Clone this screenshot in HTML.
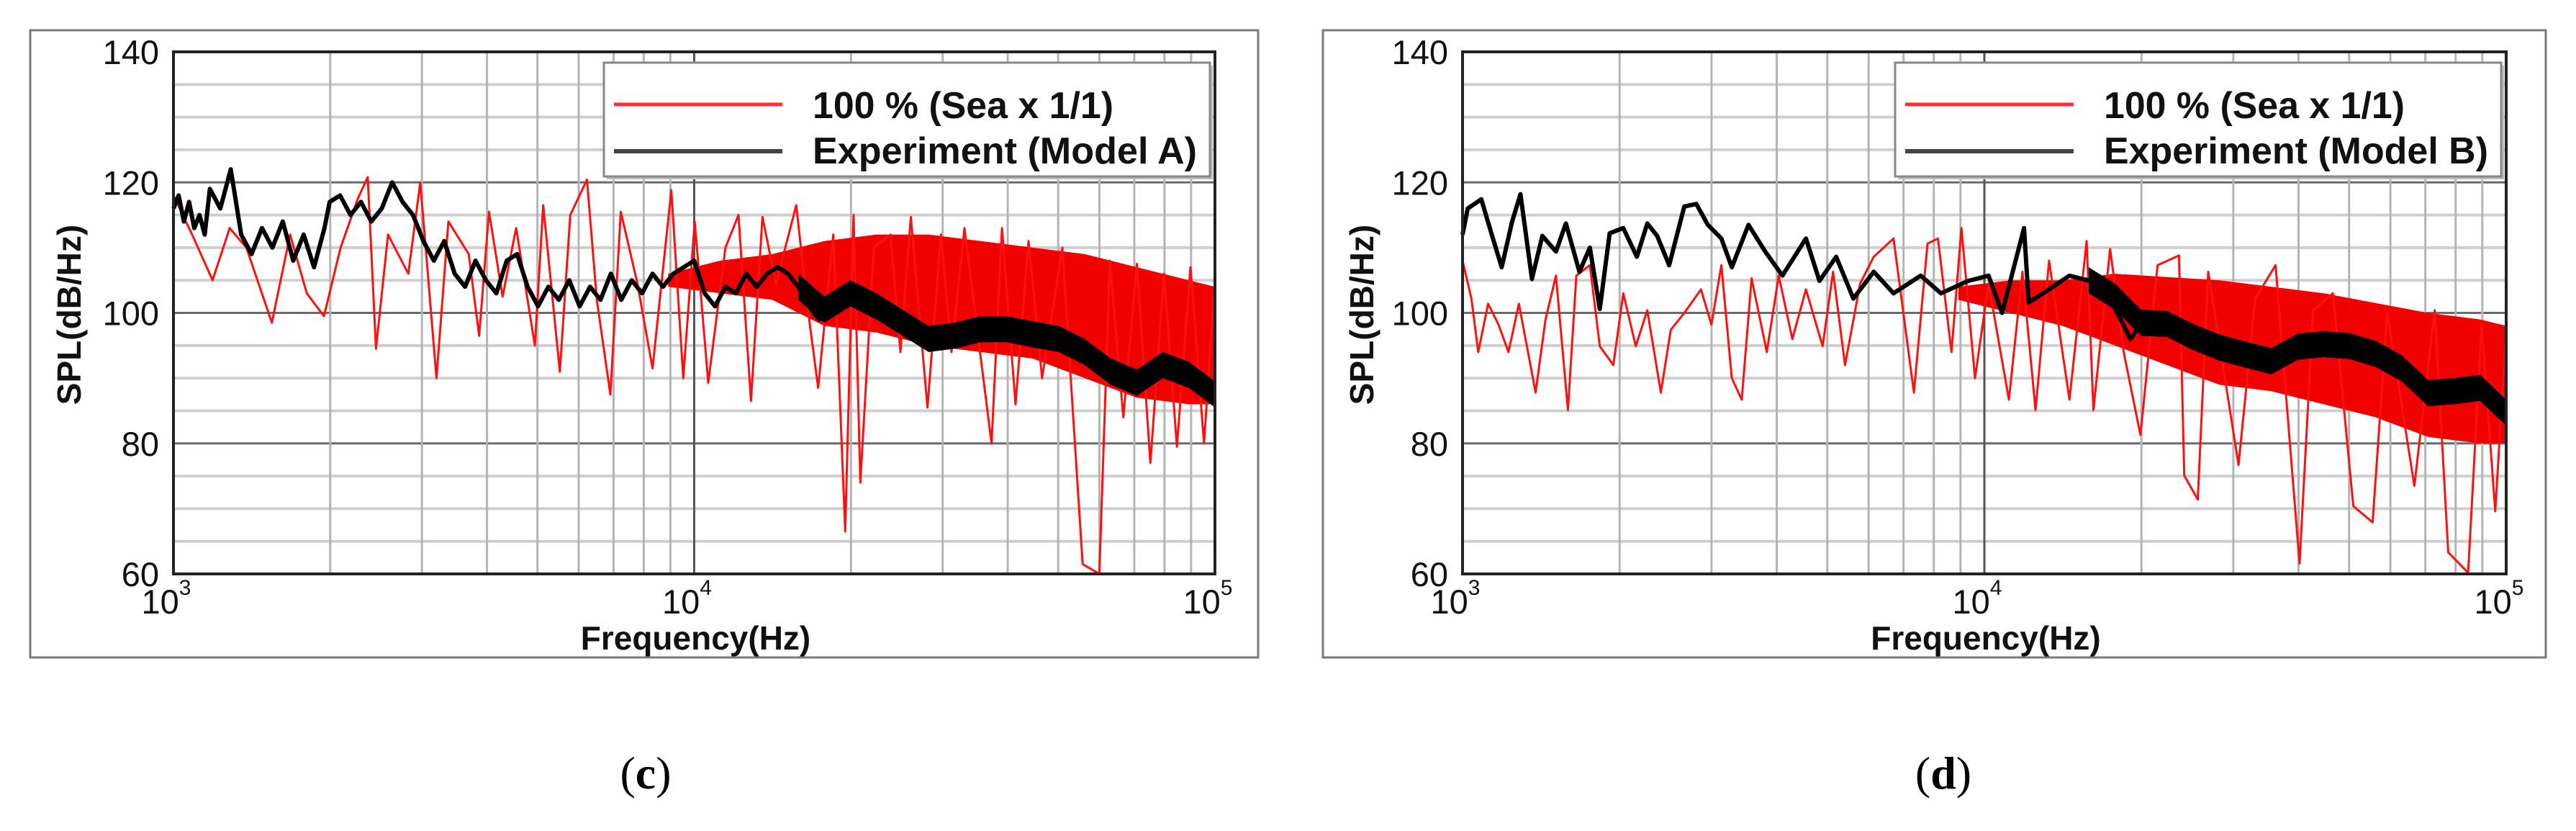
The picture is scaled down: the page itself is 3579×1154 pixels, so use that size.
<!DOCTYPE html>
<html><head><meta charset="utf-8">
<style>
html,body{margin:0;padding:0;background:#fff;}
svg{display:block;}
text{font-family:"Liberation Sans",Arial,sans-serif;}
</style></head>
<body>
<svg id="fig" width="3579" height="1154" viewBox="0 0 3579 1154" xmlns="http://www.w3.org/2000/svg">
<text x="897" y="1095" text-anchor="middle" font-size="64" style="font-family:'Liberation Serif',serif">(<tspan font-weight="bold">c</tspan>)</text>
<text x="2700" y="1095" text-anchor="middle" font-size="64" style="font-family:'Liberation Serif',serif">(<tspan font-weight="bold">d</tspan>)</text>
</svg>
<script>
// ---------- shared ----------
const yTicks = [60, 80, 100, 120, 140];
const xDecades = [3, 4, 5];
const legendLabelsC = ["100 % (Sea x 1/1)", "Experiment (Model A)"];
const legendLabelsD = ["100 % (Sea x 1/1)", "Experiment (Model B)"];

// ---------- data: panel (c) ----------
const cBlackF = [3.00,3.01,3.02,3.03,3.04,3.05,3.06,3.07,3.09,3.11,3.13,3.15,3.17,3.19,3.21,3.23,3.25,3.27,3.29,3.30,3.32,3.34,3.36,3.38,3.40,3.42,3.44,3.46,3.48,3.50,3.52,3.54,3.56,3.58,3.60,3.62,3.64,3.66,3.68,3.70,3.72,3.74,3.76,3.78,3.80,3.82,3.84,3.86,3.88,3.90,3.92,3.94,3.96,3.98,4.00,4.02,4.04,4.06,4.08,4.10,4.12,4.14,4.16,4.18,4.20,4.22,4.24,4.26,4.28,4.30,4.32,4.34,4.36,4.38,4.40,4.42,4.44,4.46,4.48,4.50,4.52,4.54,4.56,4.58,4.60,4.62,4.64,4.66,4.68,4.70,4.72,4.74,4.76,4.78,4.80,4.82,4.84,4.86,4.88,4.90,4.92,4.94,4.96,4.98,5.00];
const cBlackV = [116,118,114,117,113,115,112,119,116,122,112,109,113,110,114,108,112,107,113,117,118,115,117,114,116,120,117,115,111,108,111,106,104,108,105,103,108,109,104,101,104,102,105,101,104,102,106,102,105,103,106,104,106,107,108,103,101,104,103,106,104,106,107,106,104,101,99,100.5,102,103,103.5,102,100,99,98.5,97.5,96.5,96,96,96.5,97,97.5,97.5,97.5,98,97.5,97,97,96.5,96,95.5,94.5,93.5,92.5,91,89.5,89,89.5,91,92,92,91,90,88.5,87.5];

const cBlackBandF = [4.20,4.25,4.30,4.35,4.40,4.45,4.50,4.55,4.60,4.65,4.70,4.75,4.80,4.85,4.90,4.95,5.00];
const cBlackBandHi = [106,102.5,105,103,100.5,98,98.5,99.5,99.5,98.7,98,96,93,91.3,94,92.5,89.5];
const cBlackBandLo = [102,98.5,101,99,96.5,94,94.5,95.5,95.5,94.7,94,92,89,87.3,90,88.5,85.5];

const cRedF = [3.000,3.036,3.075,3.108,3.140,3.189,3.224,3.256,3.289,3.321,3.354,3.373,3.389,3.412,3.451,3.474,3.505,3.528,3.567,3.587,3.606,3.632,3.658,3.694,3.710,3.742,3.762,3.794,3.813,3.839,3.859,3.891,3.920,3.956,3.979,4.001,4.027,4.060,4.085,4.109,4.131,4.157,4.196,4.215,4.238,4.267,4.290,4.306,4.319,4.345,4.377,4.396,4.416,4.448,4.474,4.494,4.519,4.571,4.591,4.617,4.642,4.668,4.707,4.746,4.778,4.798,4.824,4.850,4.876,4.902,4.927,4.953,4.979,4.999];
const cRedV = [118,112,105,113,110,98.5,112,103,99.5,110,117.5,120.8,94.5,112,106,120,90,114,109,96.5,115.5,102.5,113,95,116.5,91,115,120.4,102,87.5,115.5,104.5,91.5,118.8,90,114,89.3,110,115,86.5,114.7,104.5,116.5,102.5,88.5,112,66.5,115,74,110,112,94,114.7,85.5,112,94,113,80,113,86,111,90,110,61.5,60,108,84,107.5,77,106,79.5,107,80,104];

const cBandF = [3.95,4.05,4.15,4.25,4.35,4.45,4.55,4.65,4.75,4.85,4.95,5.00];
const cBandHi = [106,108,109,111,112,112,111,110,109,107,105,104];
const cBandLo = [104,103,102,98,97,95,94,93,90,87,86,86];

// ---------- data: panel (d) ----------
const dBlackF = [3.000,3.010,3.036,3.056,3.075,3.095,3.111,3.133,3.153,3.179,3.198,3.224,3.244,3.263,3.282,3.308,3.334,3.354,3.373,3.396,3.425,3.448,3.470,3.496,3.516,3.548,3.580,3.613,3.658,3.684,3.716,3.749,3.788,3.826,3.878,3.917,3.969,4.008,4.034,4.076,4.085,4.124,4.163,4.202,4.241,4.280,4.306,4.358,4.409,4.474,4.539,4.604,4.668,4.733,4.798,4.837,4.876,4.915,4.953,4.999];
const dBlackV = [112,116,117.4,112,107,114,118.2,105.2,111.8,109.4,113.7,106.3,110,100.6,112.2,113,108.6,113.7,111.8,107.3,116.3,116.7,113.5,111.4,107,113.5,109.4,105.7,111.4,104.9,108.6,102.2,106.3,103,105.7,103,104.9,105.7,100,113,101.6,103.6,105.7,104.9,102.2,96,99,98.2,96,94,92.4,94.9,95.3,94.5,91.6,88.4,86.3,89.2,88.4,84.7];

const dBlackBandF = [4.20,4.25,4.30,4.35,4.40,4.45,4.50,4.55,4.60,4.65,4.70,4.75,4.80,4.85,4.90,4.95,5.00];
const dBlackBandHi = [107,104.5,100.5,100.3,98.3,96.7,95.6,94.6,96.8,97.2,96.9,95.7,93.5,89.7,90,90.5,86.7];
const dBlackBandLo = [103,100.5,96.5,96.3,94.3,92.7,91.6,90.6,92.8,93.2,92.9,91.7,89.5,85.7,86,86.5,82.7];

const dRedF = [3.000,3.017,3.030,3.049,3.069,3.088,3.108,3.140,3.159,3.179,3.202,3.218,3.244,3.263,3.289,3.308,3.332,3.354,3.380,3.399,3.425,3.457,3.477,3.496,3.516,3.535,3.554,3.583,3.606,3.632,3.658,3.690,3.710,3.733,3.762,3.788,3.826,3.865,3.891,3.911,3.937,3.956,3.982,4.008,4.047,4.073,4.098,4.124,4.163,4.196,4.209,4.241,4.267,4.299,4.332,4.373,4.383,4.409,4.429,4.487,4.519,4.558,4.604,4.630,4.668,4.707,4.744,4.772,4.824,4.863,4.889,4.927,4.953,4.979,4.999];
const dRedV = [108,102.2,94,101.4,98.2,94,101.4,87.8,99,105.7,85.1,105.7,107.3,94.9,92,103,94.9,100.4,87.8,97.4,100,103.6,98.2,107.3,90,86.7,105.3,94,105.7,96,103.6,94.9,106.3,92,104.5,108.6,111.4,87.8,110.6,111.4,94,113,90,104.5,86.7,106.3,85.1,108,86.7,111,85.1,109.8,94,81.3,107.3,108.8,75.1,71.4,106.3,76.7,102.2,107.3,61.6,100.4,103,70.4,67.9,100,73.5,100.4,63.3,60.2,98.2,69.6,96];

const dBandF = [3.95,4.05,4.15,4.25,4.35,4.45,4.55,4.65,4.75,4.85,4.95,5.00];
const dBandHi = [104,105,105,106,105.5,105,104,103,101.5,100,99,98];
const dBandLo = [102,100,98,95,92,89,88,86,84,81,80,80];

// ---------- drawing ----------
const NS = "http://www.w3.org/2000/svg";
const svg = document.getElementById("fig");
function mk(tag, attrs, parent) {
  const e = document.createElementNS(NS, tag);
  for (const k in attrs) e.setAttribute(k, attrs[k]);
  (parent || svg).appendChild(e);
  return e;
}

function panel(cfg) {
  const g = mk("g", {});
  
  
  const L = cfg.pl, R = cfg.pr, T = 72, B = 797;
  const xs = lf => L + (lf - 3) / 2 * (R - L);
  const ys = v => B - (v - 60) / 80 * (B - T);
  const bandPath = (F, H, Lo) => {
    let p = "";
    F.forEach((f, i) => { p += (i ? "L" : "M") + xs(f).toFixed(1) + "," + ys(H[i]).toFixed(1); });
    for (let i = F.length - 1; i >= 0; i--) p += "L" + xs(F[i]).toFixed(1) + "," + ys(Lo[i]).toFixed(1);
    return p + "Z";
  };

  const frame = mk("rect", {x: cfg.fl, y: 42, width: cfg.fr - cfg.fl, height: 871, fill: "#fff", stroke: "#7a7a7a", "stroke-width": 3}, g);
  
  

  for (let v = 65; v < 140; v += 5) {
    const major = v % 20 === 0;
    const hl = mk("line", {x1: L, x2: R, y1: ys(v), y2: ys(v), stroke: major ? "#6a6a6a" : "#cfcfcf", "stroke-width": major ? 3 : 4}, g);
    
    
  }
  for (let d = 3; d < 5; d++) {
    for (let m = 1; m <= 9; m++) {
      if (d === 3 && m === 1) continue;
      const lf = d + Math.log10(m);
      const vl = mk("line", {x1: xs(lf), x2: xs(lf), y1: T, y2: B, stroke: m === 1 ? "#555" : "#b4b4b4", "stroke-width": 3}, g);
      
      
    }
  }

  const band = mk("path", {d: bandPath(cfg.bandF, cfg.bandHi, cfg.bandLo), fill: "#f20000"}, g);
  
  

  let rp = "";
  cfg.redF.forEach((f, i) => { rp += (i ? "L" : "M") + xs(f).toFixed(1) + "," + ys(cfg.redV[i]).toFixed(1); });
  const red = mk("path", {d: rp, fill: "none", stroke: "#ff1010", "stroke-width": 3, "stroke-linejoin": "round"}, g);
  
  

  let kp = "";
  cfg.blackF.forEach((f, i) => { kp += (i ? "L" : "M") + xs(f).toFixed(1) + "," + ys(cfg.blackV[i]).toFixed(1); });
  const blk = mk("path", {d: kp, fill: "none", stroke: "#000", "stroke-width": 6, "stroke-linejoin": "round"}, g);
  
  

  const kb = mk("path", {d: bandPath(cfg.kBandF, cfg.kBandHi, cfg.kBandLo), fill: "#000"}, g);
  
  

  const pb = mk("rect", {x: L, y: T, width: R - L, height: B - T, fill: "none", stroke: "#222", "stroke-width": 4}, g);
  
  

  yTicks.forEach(v => {
    const t = mk("text", {x: L - 20, y: ys(v) + 17, "text-anchor": "end", "font-size": 47, fill: "#111"}, g);
    t.textContent = v;
    
    
  });
  xDecades.forEach(d => {
    const t = mk("text", {x: xs(d) - 10, y: 852, "text-anchor": "middle", "font-size": 47, fill: "#111"}, g);
    t.textContent = "10";
    const s = mk("tspan", {dy: -26, "font-size": 30}, t);
    s.textContent = d;
    
    
  });
  const xt = mk("text", {x: (L + R) / 2 + 2, y: 902, "text-anchor": "middle", "font-size": 46, "font-weight": "bold", fill: "#111"}, g);
  xt.textContent = "Frequency(Hz)";
  
  
  const yt = mk("text", {x: 0, y: 0, transform: "translate(" + (cfg.fl + 70) + ",437) rotate(-90)", "text-anchor": "middle", "font-size": 46, "font-weight": "bold", fill: "#111"}, g);
  yt.textContent = "SPL(dB/Hz)";
  
  

  const lg = mk("g", {}, g);
  
  
  const lx = R - 849, lw = 842;
  mk("rect", {x: lx + 4, y: 91, width: lw, height: 158, fill: "#bbb"}, lg);
  const lb = mk("rect", {x: lx, y: 87, width: lw, height: 158, fill: "#fff", stroke: "#888", "stroke-width": 3}, lg);
  
  
  const l1 = mk("line", {x1: lx + 14, x2: lx + 248, y1: 145, y2: 145, stroke: "#ff3030", "stroke-width": 5}, lg);
  
  
  const l2 = mk("line", {x1: lx + 14, x2: lx + 248, y1: 210, y2: 210, stroke: "#444", "stroke-width": 6}, lg);
  
  
  const t1 = mk("text", {x: lx + 290, y: 164, "font-size": 52, "font-weight": "bold", fill: "#111", textLength: 418, lengthAdjust: "spacingAndGlyphs"}, lg);
  t1.textContent = cfg.legend[0];
  
  
  const t2 = mk("text", {x: lx + 290, y: 227, "font-size": 52, "font-weight": "bold", fill: "#111", textLength: 534, lengthAdjust: "spacingAndGlyphs"}, lg);
  t2.textContent = cfg.legend[1];
  
  
}

panel({name: "chart-c", fl: 42, fr: 1748, pl: 241, pr: 1688,
  blackF: cBlackF, blackV: cBlackV, redF: cRedF, redV: cRedV,
  kBandF: cBlackBandF, kBandHi: cBlackBandHi, kBandLo: cBlackBandLo,
  bandF: cBandF, bandHi: cBandHi, bandLo: cBandLo, legend: legendLabelsC});
panel({name: "chart-d", fl: 1838, fr: 3537, pl: 2032, pr: 3482,
  blackF: dBlackF, blackV: dBlackV, redF: dRedF, redV: dRedV,
  kBandF: dBlackBandF, kBandHi: dBlackBandHi, kBandLo: dBlackBandLo,
  bandF: dBandF, bandHi: dBandHi, bandLo: dBandLo, legend: legendLabelsD});
</script>
</body></html>
